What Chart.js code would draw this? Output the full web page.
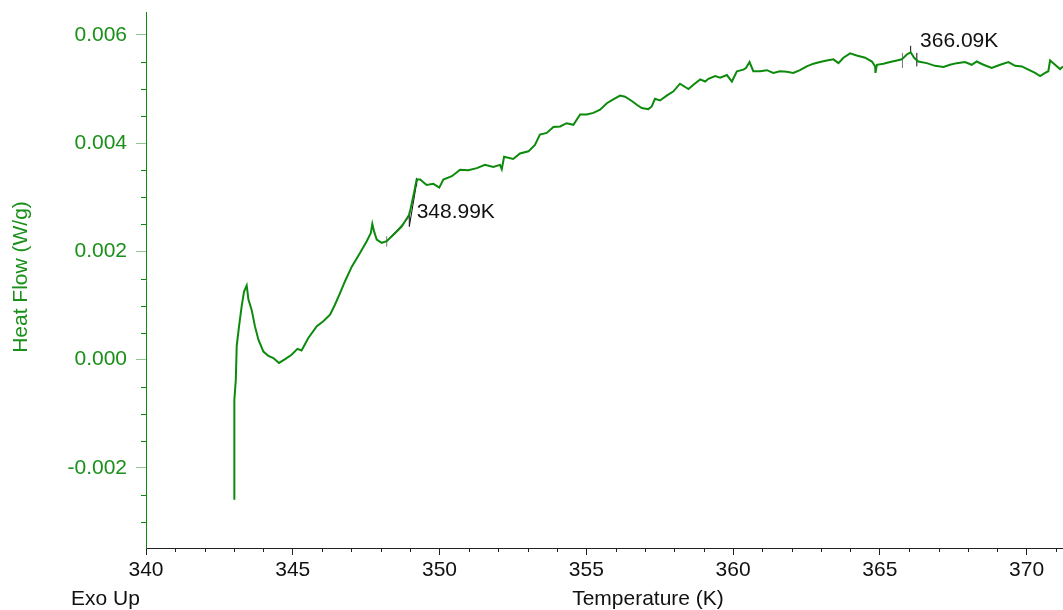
<!DOCTYPE html>
<html>
<head>
<meta charset="utf-8">
<title>Heat Flow</title>
<script src="https://cdn.jsdelivr.net/npm/chart.js@4"></script>
<style>
  body { margin: 0; background: #fff; }
  #wrap { width: 1063px; height: 610px; }
</style>
</head>
<body>
<div id="wrap"><canvas id="dsc" width="1063" height="610"></canvas></div>
<script>
// Données (température en K, flux en W/g)
const temps = [
  343.01, 343.01, 343.06, 343.09, 343.17, 343.26, 343.34, 343.43, 343.49, 343.60,
  343.71, 343.83, 344.00, 344.17, 344.34, 344.53, 344.74, 344.96, 345.16, 345.30,
  345.53, 345.82, 346.04, 346.27, 346.44, 346.61, 346.78, 347.01, 347.29, 347.52,
  347.66, 347.71, 347.77, 347.86, 348.03, 348.20, 348.43, 348.71, 348.97, 349.13,
  349.22, 349.34, 349.56, 349.79, 349.99, 350.13, 350.42, 350.70, 350.98, 351.27,
  351.55, 351.83, 352.06, 352.12, 352.20, 352.51, 352.74, 353.03, 353.25, 353.42,
  353.65, 353.88, 354.11, 354.33, 354.56, 354.79, 355.02, 355.24, 355.47, 355.70,
  355.92, 356.15, 356.32, 356.55, 356.72, 356.89, 357.11, 357.23, 357.34, 357.51,
  357.74, 357.97, 358.19, 358.48, 358.65, 358.88, 359.05, 359.16, 359.39, 359.56,
  359.79, 359.96, 360.13, 360.35, 360.44, 360.56, 360.69, 360.92, 361.15, 361.37,
  361.60, 361.83, 362.05, 362.28, 362.51, 362.74, 362.96, 363.19, 363.42, 363.59,
  363.76, 363.99, 364.21, 364.50, 364.73, 364.84, 364.85, 364.90, 365.12, 365.35,
  365.58, 365.75, 365.92, 366.05, 366.17, 366.31, 366.60, 366.88, 367.17, 367.39,
  367.62, 367.90, 368.13, 368.30, 368.53, 368.81, 369.10, 369.38, 369.61, 369.84,
  370.06, 370.29, 370.46, 370.63, 370.74, 370.80, 370.97, 371.14, 371.24
];
const heatFlow = [
  -0.00259, -0.00074, -0.00037, 0.00025, 0.00062, 0.00099, 0.00126, 0.00137, 0.00111, 0.00092,
  0.00062, 0.00037, 0.00015, 0.00007, 0.00003, -0.00006, 0.00001, 0.00009, 0.00020, 0.00017,
  0.00040, 0.00062, 0.00071, 0.00083, 0.00102, 0.00123, 0.00145, 0.00172, 0.00197, 0.00219,
  0.00234, 0.00251, 0.00237, 0.00222, 0.00216, 0.00219, 0.00231, 0.00246, 0.00268, 0.00308,
  0.00333, 0.00333, 0.00323, 0.00325, 0.00318, 0.00333, 0.00339, 0.00351, 0.00350, 0.00354,
  0.00360, 0.00356, 0.00360, 0.00352, 0.00375, 0.00371, 0.00381, 0.00385, 0.00397, 0.00416,
  0.00419, 0.00430, 0.00431, 0.00437, 0.00434, 0.00453, 0.00453, 0.00456, 0.00462, 0.00474,
  0.00481, 0.00488, 0.00486, 0.00478, 0.00471, 0.00465, 0.00463, 0.00468, 0.00482, 0.00479,
  0.00488, 0.00496, 0.00510, 0.00500, 0.00508, 0.00518, 0.00514, 0.00519, 0.00524, 0.00521,
  0.00526, 0.00514, 0.00533, 0.00536, 0.00539, 0.00550, 0.00533, 0.00533, 0.00535, 0.00530,
  0.00533, 0.00532, 0.00530, 0.00535, 0.00542, 0.00547, 0.00550, 0.00553, 0.00555, 0.00548,
  0.00558, 0.00566, 0.00562, 0.00558, 0.00551, 0.00542, 0.00530, 0.00545, 0.00547, 0.00550,
  0.00553, 0.00555, 0.00564, 0.00568, 0.00558, 0.00551, 0.00548, 0.00543, 0.00541, 0.00545,
  0.00548, 0.00550, 0.00545, 0.00551, 0.00545, 0.00539, 0.00545, 0.00550, 0.00543, 0.00542,
  0.00536, 0.00530, 0.00524, 0.00530, 0.00533, 0.00553, 0.00545, 0.00537, 0.00542
];

// Graduations
const xTicks = [340, 345, 350, 355, 360, 365, 370];
const yTicks = [-0.002, 0.000, 0.002, 0.004, 0.006];
const xRange = [340, 371.24];
const yRange = [-0.00348, 0.006425];

// Analyse : tangentes et repères (K, W/g)
const onsetBaseT = [348.20, 348.99];
const onsetBaseV = [0.00219, 0.00265];
const onsetTanT = [348.97, 349.24];
const onsetTanV = [0.00246, 0.00333];
const onsetMarks = [[348.20, 0.00209, 0.00228], [348.97, 0.00246, 0.00274], [349.22, 0.00321, 0.00336]];
const peakMarks = [[365.77, 0.00539, 0.00567], [366.05, 0.00568, 0.00580], [366.26, 0.00542, 0.00567]];
const labels = [
  { text: '348.99K', t: 349.22, v: 0.00273 },
  { text: '366.09K', t: 366.37, v: 0.00588 }
];

const GREEN = '#0c8a0c';
const LABEL_GREEN = '#1a8f1a';
const FONT = '"Liberation Sans", Arial, sans-serif';

const toPts = (ts, vs) => ts.map((t, i) => ({ x: t, y: vs[i] }));

const markSets = onsetMarks.concat(peakMarks).map((m, i) => ({
  data: [{ x: m[0], y: m[1] }, { x: m[0], y: m[2] }],
  borderColor: (i === 0 || i === 3) ? '#777' : '#111',
  borderWidth: 1,
  pointRadius: 0
}));

// Petites graduations et textes libres
const extras = {
  id: 'extras',
  afterDraw(chart) {
    const { ctx, scales: { x, y }, chartArea } = chart;
    ctx.save();
    // graduations mineures
    ctx.lineWidth = 1;
    ctx.strokeStyle = '#222';
    for (let t = 341; t <= 371; t++) {
      if (t % 5 === 0) continue;
      const px = Math.round(x.getPixelForValue(t)) + 0.5;
      ctx.beginPath();
      ctx.moveTo(px, chartArea.bottom);
      ctx.lineTo(px, chartArea.bottom + 4);
      ctx.stroke();
    }
    ctx.strokeStyle = GREEN;
    for (let k = -6; k <= 12; k++) {
      if (k % 4 === 0) continue;
      const py = Math.round(y.getPixelForValue(k * 0.0005)) + 0.5;
      if (py > chartArea.bottom || py < chartArea.top) continue;
      ctx.beginPath();
      ctx.moveTo(chartArea.left - 5, py);
      ctx.lineTo(chartArea.left, py);
      ctx.stroke();
    }
    // étiquettes d'analyse
    ctx.font = '21px ' + FONT;
    ctx.fillStyle = '#111';
    ctx.textBaseline = 'middle';
    ctx.textAlign = 'left';
    labels.forEach(l => {
      ctx.fillText(l.text, x.getPixelForValue(l.t), y.getPixelForValue(l.v));
    });
    // titres des axes
    ctx.fillText('Exo Up', 71, 599);
    ctx.textAlign = 'center';
    ctx.fillText('Temperature (K)', 648, 599);
    ctx.fillStyle = LABEL_GREEN;
    ctx.translate(21, 277);
    ctx.rotate(-Math.PI / 2);
    ctx.fillText('Heat Flow (W/g)', 0, 0);
    ctx.restore();
  }
};

new Chart(document.getElementById('dsc'), {
  type: 'line',
  data: {
    datasets: [
      {
        data: toPts(temps, heatFlow),
        borderColor: GREEN,
        borderWidth: 2,
        pointRadius: 0,
        tension: 0
      },
      {
        data: toPts(onsetBaseT, onsetBaseV),
        borderColor: '#555',
        borderWidth: 1,
        pointRadius: 0
      },
      {
        data: toPts(onsetTanT, onsetTanV),
        borderColor: '#111',
        borderWidth: 1,
        pointRadius: 0
      }
    ].concat(markSets)
  },
  options: {
    responsive: false,
    animation: false,
    layout: { padding: { top: 12, right: 0, left: 0, bottom: 0 } },
    plugins: { legend: { display: false }, tooltip: { enabled: false } },
    scales: {
      x: {
        type: 'linear',
        min: xRange[0],
        max: xRange[1],
        afterFit: s => { s.height = 62; s.paddingLeft = 0; s.paddingRight = 0; },
        afterBuildTicks: s => { s.ticks = xTicks.map(v => ({ value: v })); },
        ticks: {
          color: '#111',
          font: { family: FONT, size: 21 },
          padding: 3,
          maxRotation: 0,
          callback: v => String(v)
        },
        grid: { drawOnChartArea: false, tickLength: 7, color: '#222' },
        border: { color: '#222', width: 1 }
      },
      y: {
        type: 'linear',
        min: yRange[0],
        max: yRange[1],
        afterFit: s => { s.width = 146; s.paddingTop = 0; s.paddingBottom = 0; },
        afterBuildTicks: s => { s.ticks = yTicks.map(v => ({ value: v })); },
        ticks: {
          color: LABEL_GREEN,
          font: { family: FONT, size: 21 },
          padding: 9,
          callback: v => (Math.abs(v) < 1e-9 ? 0 : v).toFixed(3)
        },
        grid: { drawOnChartArea: false, tickLength: 10, color: '#8fc98f' },
        border: { color: GREEN, width: 1 }
      }
    }
  },
  plugins: [extras]
});
</script>
</body>
</html>
